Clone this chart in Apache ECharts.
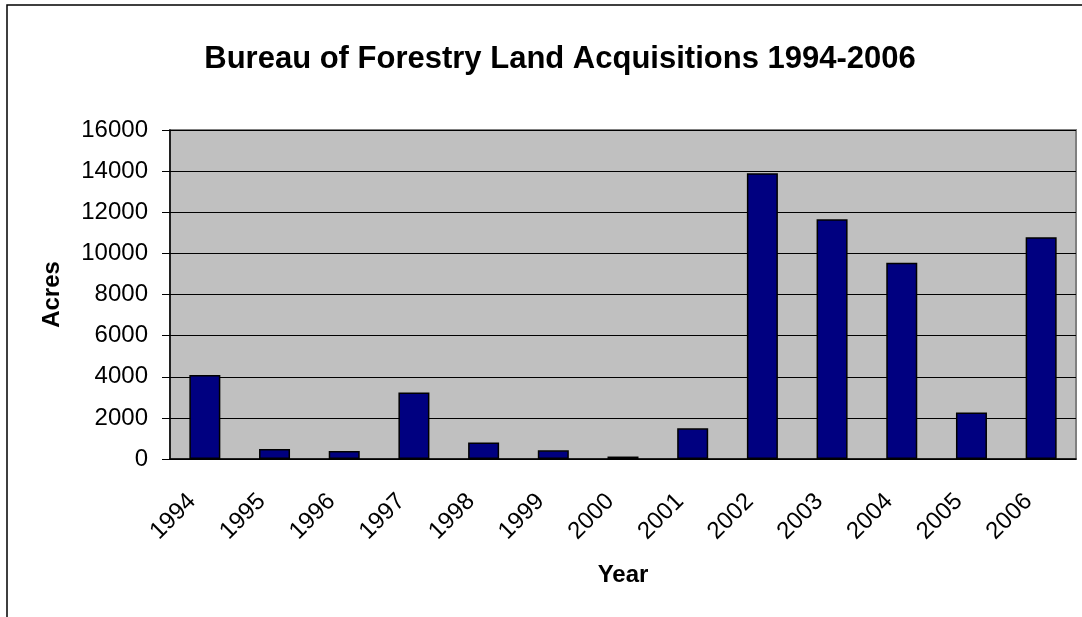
<!doctype html>
<html>
<head>
<meta charset="UTF-8">
<title>Bureau of Forestry Land Acquisitions</title>
<script src="https://cdn.jsdelivr.net/npm/echarts@6/dist/echarts.min.js"></script>
<style>
  html, body { margin: 0; padding: 0; background: #fff; }
</style>
</head>
<body>
<div id="main" style="width:1082px;height:617px;"></div>
<script>
    // data
    var years = ['1994','1995','1996','1997','1998','1999','2000','2001','2002','2003','2004','2005','2006'];
    var acres = [4090, 490, 390, 3230, 800, 420, 120, 1490, 13900, 11660, 9540, 2260, 10790];
    var yTicks = { min: 0, max: 16000, step: 2000 };

    var font = '"Liberation Sans", Arial, sans-serif';

    var myChart = echarts.init(document.getElementById('main'));
    var option = {
        animation: false,
        backgroundColor: '#fff',
        title: {
            text: 'Bureau of Forestry Land Acquisitions 1994-2006',
            left: 555,
            top: 39,
            textAlign: 'center',
            textStyle: { fontFamily: font, fontSize: 31, fontWeight: 'bold', color: '#000' }
        },
        graphic: [{
            // outer chart frame (only left/top visible in the picture)
            type: 'rect',
            shape: { x: 7, y: 5, width: 1300, height: 1000 },
            style: { fill: 'none', stroke: '#000', lineWidth: 1.5 },
            silent: true
        }],
        grid: {
            left: 170, right: 6, top: 130, bottom: 158,
            show: true,
            backgroundColor: '#c0c0c0',
            borderColor: '#808080',
            borderWidth: 2
        },
        xAxis: {
            type: 'category',
            data: years,
            name: 'Year',
            nameLocation: 'middle',
            nameGap: 104,
            nameTextStyle: { fontFamily: font, fontSize: 24, fontWeight: 'bold', color: '#000' },
            axisLine: { lineStyle: { color: '#000', width: 1.5 } },
            axisTick: { length: 7, lineStyle: { color: '#000' } },
            axisLabel: { rotate: 45, margin: 26, padding: [0, 18, 0, 0], fontFamily: font, fontSize: 24, color: '#000' }
        },
        yAxis: {
            type: 'value',
            min: yTicks.min,
            max: yTicks.max,
            interval: yTicks.step,
            name: 'Acres',
            nameLocation: 'middle',
            nameGap: 106,
            nameTextStyle: { fontFamily: font, fontSize: 24, fontWeight: 'bold', color: '#000' },
            axisLine: { show: true, lineStyle: { color: '#000', width: 1.5 } },
            axisTick: { show: true, length: 8, lineStyle: { color: '#000' } },
            axisLabel: { margin: 22, fontFamily: font, fontSize: 24, color: '#000', formatter: function (v) { return String(v); } },
            splitLine: { lineStyle: { color: '#000', width: 1 } }
        },
        series: [{
            type: 'bar',
            data: acres,
            barWidth: 31,
            itemStyle: { color: '#000080', borderColor: '#000', borderWidth: 1.5 }
        }]
    };
    myChart.setOption(option);
</script>
</body>
</html>
